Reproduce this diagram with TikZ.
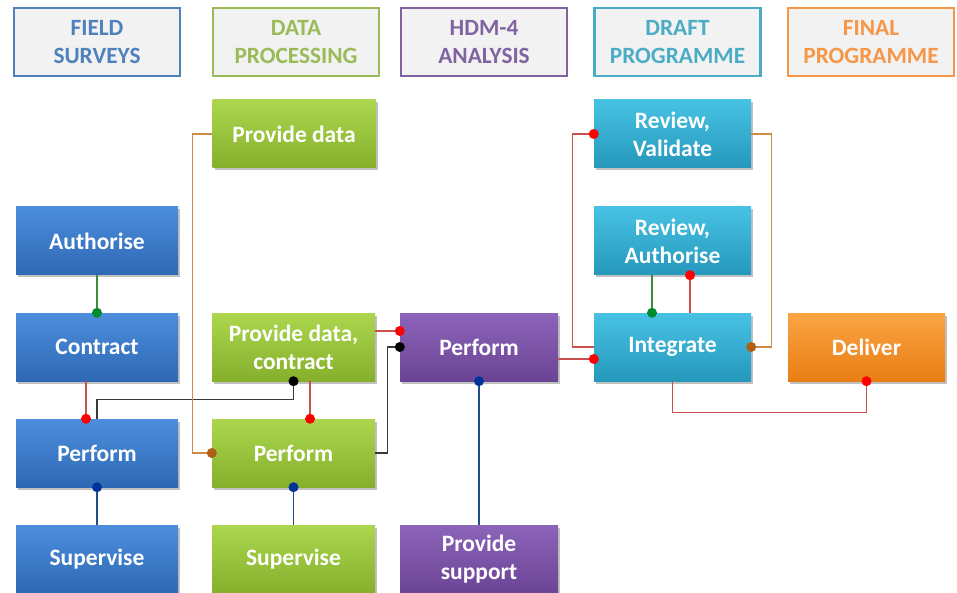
\documentclass[tikz,border=0pt]{standalone}
\usepackage{fontspec}
\setmainfont{Carlito}
\usetikzlibrary{calc,shadows}
\definecolor{hblue}{HTML}{4F81BD}
\definecolor{hgreen}{HTML}{9BBB59}
\definecolor{hpurple}{HTML}{8064A2}
\definecolor{hteal}{HTML}{4BACC6}
\definecolor{horange}{HTML}{F79646}
\definecolor{hfill}{HTML}{F2F2F2}
\definecolor{bblueT}{HTML}{4C8EDC}
\definecolor{bblueB}{HTML}{2E68B4}
\definecolor{bgreenT}{HTML}{ABD64E}
\definecolor{bgreenB}{HTML}{86B02C}
\definecolor{bpurpleT}{HTML}{8C64BA}
\definecolor{bpurpleB}{HTML}{6A4494}
\definecolor{btealT}{HTML}{48C2E4}
\definecolor{btealB}{HTML}{2598BC}
\definecolor{borangeT}{HTML}{FBA444}
\definecolor{borangeB}{HTML}{E97E14}
\definecolor{lred}{HTML}{C9504D}
\definecolor{dred}{HTML}{FF0000}
\definecolor{lbrown}{HTML}{D08A48}
\definecolor{dbrown}{HTML}{B05E14}
\definecolor{lgreen}{HTML}{3C8C3C}
\definecolor{dgreen}{HTML}{008A2E}
\definecolor{lnavy}{HTML}{1F4E8C}
\definecolor{dnavy}{HTML}{00339A}
\definecolor{lblack}{HTML}{3A3A3A}
\tikzset{
  hdr/.style={draw=#1, text=#1, line width=2.5pt, fill=hfill, minimum width=166pt,
    minimum height=68pt, inner sep=0pt, align=center,
    font=\bfseries\fontsize{23.3}{28}\selectfont},
  bx/.style={minimum width=160pt, minimum height=68pt, inner sep=0pt, align=center,
    text=white, font=\bfseries\fontsize{23.5}{28}\selectfont,
    drop shadow={shadow xshift=2pt, shadow yshift=-2.5pt, opacity=0.35, fill=black!70}},
  bluebx/.style={bx, top color=bblueT, bottom color=bblueB},
  greenbx/.style={bx, top color=bgreenT, bottom color=bgreenB},
  purplebx/.style={bx, top color=bpurpleT, bottom color=bpurpleB},
  tealbx/.style={bx, top color=btealT, bottom color=btealB},
  orangebx/.style={bx, top color=borangeT, bottom color=borangeB},
  redln/.style={draw=lred, line width=1.2pt},
  brnln/.style={draw=lbrown, line width=1.2pt},
  grnln/.style={draw=lgreen, line width=1.2pt},
  navln/.style={draw=lnavy, line width=1.2pt},
  blkln/.style={draw=lblack, line width=1.2pt},
  dotr/.style={fill=dred},
  dotb/.style={fill=dbrown},
  dotg/.style={fill=dgreen},
  dotn/.style={fill=dnavy},
  dotk/.style={fill=black},
}
\begin{document}
\begin{tikzpicture}[x=1pt,y=-1pt]
\useasboundingbox[fill=white] (0,0) rectangle (957,593);
% headers
\node[hdr=hblue] (h1) at (97,42) {FIELD\\SURVEYS};
\node[hdr=hgreen] (h2) at (296,42) {DATA\\PROCESSING};
\node[hdr=hpurple] (h3) at (484,42) {HDM-4\\ANALYSIS};
\node[hdr=hteal] (h4) at (677.5,42) {DRAFT\\PROGRAMME};
\node[hdr=horange] (h5) at (871,42) {FINAL\\PROGRAMME};
% boxes
\node[greenbx, minimum width=163pt] (pd) at (294,134) {Provide data};
\node[tealbx, minimum width=157pt] (rv) at (672.5,134) {Review,\\Validate};
\node[bluebx, minimum width=162pt] (auth) at (97,241) {Authorise};
\node[tealbx, minimum width=157pt] (ra) at (672.5,241) {Review,\\Authorise};
\node[bluebx, minimum width=162pt] (contract) at (97,347) {Contract};
\node[greenbx, minimum width=163pt] (pdc) at (293.5,347) {Provide data,\\contract};
\node[purplebx, minimum width=158pt] (perfP) at (479,347) {Perform};
\node[tealbx, minimum width=157pt] (integ) at (672.5,347) {Integrate};
\node[orangebx, minimum width=157pt] (deliver) at (866.5,347) {Deliver};
\node[bluebx, minimum width=162pt] (perfB) at (97,453) {Perform};
\node[greenbx, minimum width=163pt] (perfG) at (293.5,453) {Perform};
\node[bluebx, minimum width=162pt] (supB) at (97,559) {Supervise};
\node[greenbx, minimum width=163pt] (supG) at (293.5,559) {Supervise};
\node[purplebx, minimum width=158pt] (ps) at (479,559) {Provide\\support};
% connectors
\draw[grnln] (auth.south) -- (contract.north);
\draw[redln] ([xshift=-11pt]contract.south) -- ([xshift=-11pt]perfB.north);
\draw[blkln] (pdc.south) -- ++(0,18) -| (perfB.north);
\draw[redln] ([xshift=16.5pt]pdc.south) -- ([xshift=16.5pt]perfG.north);
\draw[brnln] (pd.west) -- ++(-20,0) |- (perfG.west);
\draw[redln] ([yshift=16pt]pdc.east) -- ([yshift=16pt]pdc.east -| perfP.west);
\draw[blkln] (perfG.east) -- ++(12,0) |- (perfP.west);
\draw[navln] (perfP.south) -- (ps.north);
\draw[navln] (perfB.south) -- (supB.north);
\draw[navln] (perfG.south) -- (supG.north);
\draw[redln] ([yshift=-12pt]perfP.east) -- ([yshift=-12pt]perfP.east -| integ.west);
\draw[redln] (rv.west) -- ++(-21,0) |- (integ.west);
\draw[brnln] (rv.east) -- ++(20,0) |- (integ.east);
\draw[grnln] ([xshift=-20.5pt]ra.south) -- ([xshift=-20.5pt]integ.north);
\draw[redln] ([xshift=17.5pt]integ.north) -- ([xshift=17.5pt]ra.south);
\draw[redln] (integ.south) -- ++(0,31) -| (deliver.south);
% dots
\fill[dotg] (contract.north) circle (5pt);
\fill[dotr] ([xshift=-11pt]perfB.north) circle (5pt);
\fill[dotk] (pdc.south) circle (5pt);
\fill[dotr] ([xshift=16.5pt]perfG.north) circle (5pt);
\fill[dotb] (perfG.west) circle (5pt);
\fill[dotr] ([yshift=16pt]pdc.east -| perfP.west) circle (5pt);
\fill[dotk] (perfP.west) circle (5pt);
\fill[dotn] (perfP.south) circle (5pt);
\fill[dotn] (perfB.south) circle (5pt);
\fill[dotn] (perfG.south) circle (5pt);
\fill[dotr] ([yshift=-12pt]perfP.east -| integ.west) circle (5pt);
\fill[dotr] (rv.west) circle (5pt);
\fill[dotb] (integ.east) circle (5pt);
\fill[dotg] ([xshift=-20.5pt]integ.north) circle (5pt);
\fill[dotr] ([xshift=17.5pt]ra.south) circle (5pt);
\fill[dotr] (deliver.south) circle (5pt);
\end{tikzpicture}
\end{document}
